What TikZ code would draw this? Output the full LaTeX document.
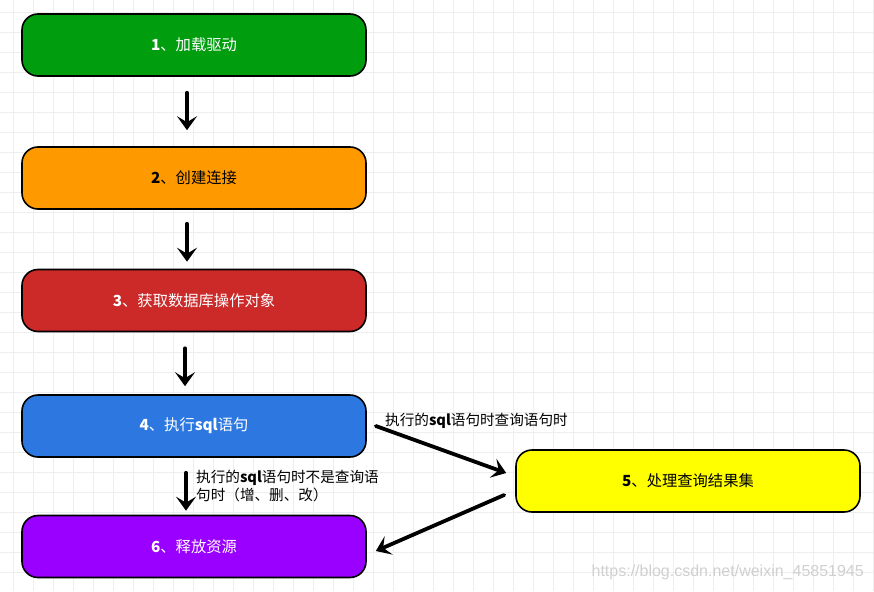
\documentclass[tikz,border=0pt]{standalone}
\usepackage{fontspec}
\setmainfont{Noto Sans CJK SC}
\newfontfamily\wmfont{Liberation Sans}
\usetikzlibrary{arrows.meta}
\definecolor{cgreen}{RGB}{0,158,15}
\definecolor{corange}{RGB}{255,153,0}
\definecolor{cred}{RGB}{204,41,41}
\definecolor{cblue}{RGB}{45,120,224}
\definecolor{cyellow}{RGB}{255,255,0}
\definecolor{cpurple}{RGB}{153,0,255}
\definecolor{gridc}{RGB}{238,238,238}
\definecolor{wmc}{RGB}{208,208,208}
\begin{document}
\begin{tikzpicture}[x=1pt,y=-1pt,
  box/.style={draw=black, line width=1.6pt, rounded corners=16pt,
    minimum width=344pt, minimum height=62pt, inner sep=0pt,
    font=\fontsize{15.3}{18}\selectfont},
  flow/.style={line width=3.8pt, line cap=round, line join=round,
    -{Stealth[length=14pt,width=20pt,inset=6pt]}},
  lbl/.style={font=\fontsize{14.6}{18}\selectfont, inner sep=0pt, align=left}]
\useasboundingbox (0,0) rectangle (874,591);
\fill[white] (0,0) rectangle (874,591);
\foreach \x in {13,33,...,873} \draw[gridc, line width=0.8pt] (\x,0) -- (\x,591);
\foreach \y in {12,32,...,590} \draw[gridc, line width=0.8pt] (0,\y) -- (874,\y);

\node[box, fill=cgreen, text=white] (b1) at (194,45) {\textbf{1}、加载驱动};
\node[box, fill=corange, text=black] (b2) at (194,178) {\textbf{2}、创建连接};
\node[box, fill=cred, text=white] (b3) at (194,300.5) {\textbf{3}、获取数据库操作对象};
\node[box, fill=cblue, text=white] (b4) at (194,426) {\textbf{4}、执行\textbf{sql}语句};
\node[box, fill=cyellow, text=black] (b5) at (688,481) {\textbf{5}、处理查询结果集};
\node[box, fill=cpurple, text=white] (b6) at (194,546.5) {\textbf{6}、释放资源};

\draw[flow, shorten <=16pt, shorten >=16pt] ([xshift=-7pt]b1.south) -- ([xshift=-7pt]b2.north);
\draw[flow, shorten <=14pt, shorten >=7pt] ([xshift=-7pt]b2.south) -- ([xshift=-7pt]b3.north);
\draw[flow, shorten <=16pt, shorten >=8pt] ([xshift=-9pt]b3.south) -- ([xshift=-9pt]b4.north);
\draw[flow, shorten <=15pt, shorten >=4pt] ([xshift=-8pt]b4.south) -- ([xshift=-8pt]b6.north);
\draw[flow] ([xshift=9pt]b4.east) -- ([xshift=-9pt,yshift=8pt]b5.west);
\draw[flow] ([xshift=-11pt,yshift=-14pt]b5.west) -- ([xshift=9pt,yshift=-4.5pt]b6.east);

\node[lbl, anchor=west] (l1) at (385,421) {执行的\textbf{sql}语句时查询语句时};
\node[lbl, anchor=north west] (l2) at (196,470) {执行的\textbf{sql}语句时不是查询语\\句时（增、删、改）};

\node[anchor=east, inner sep=0pt, text=wmc, font=\wmfont\fontsize{16}{18}\selectfont] (wm) at (864,572) {https://blog.csdn.net/weixin\_45851945};
\end{tikzpicture}
\end{document}
